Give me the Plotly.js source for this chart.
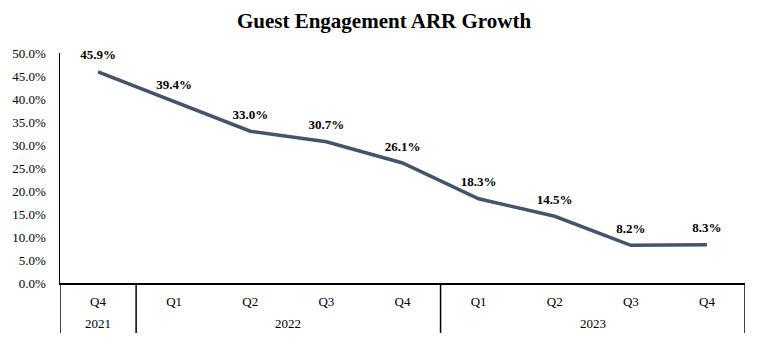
<!DOCTYPE html>
<html>
<head>
<meta charset="utf-8">
<script src="https://cdn.plot.ly/plotly-3.0.1.min.js"></script>
<style>html,body{margin:0;padding:0;background:#fff;}#chart{width:768px;height:355px;}</style>
</head>
<body>
<div id="chart"></div>
<script>
const years = ["2021", "2022", "2022", "2022", "2022", "2023", "2023", "2023", "2023"];
const quarters = ["Q4", "Q1", "Q2", "Q3", "Q4", "Q1", "Q2", "Q3", "Q4"];
const growth = [45.9, 39.4, 33.0, 30.7, 26.1, 18.3, 14.5, 8.2, 8.3];
const yTicks = [0, 5, 10, 15, 20, 25, 30, 35, 40, 45, 50];

const labels = growth.map(v => v.toFixed(1) + "%");
const yTickText = yTicks.map(v => v.toFixed(1) + "%");
const xKeys = years.map((y, i) => y + " " + quarters[i]);

// year groups: first/last index of each year
const groups = [];
years.forEach((y, i) => {
  const g = groups.find(g => g.year === y);
  if (g) g.last = i; else groups.push({year: y, first: i, last: i});
});

const serif = "Liberation Serif, Times New Roman, serif";
const lowRow = -0.178;   // year label row (paper units below axis)
const divEnd = -0.217;   // divider bottom

const annotations = groups.map(g => ({
  xref: "x", yref: "paper",
  x: (g.first + g.last) / 2, y: lowRow,
  text: g.year, showarrow: false,
  xanchor: "center", yanchor: "middle",
  font: {family: serif, size: 13, color: "#000"}
}));

const bounds = [groups[0].first - 0.5].concat(groups.map(g => g.last + 0.5));
const shapes = bounds.map(b => ({
  type: "line", xref: "x", yref: "paper",
  x0: b, x1: b, y0: 0, y1: divEnd,
  line: {color: "#000", width: 1.5}
}));

Plotly.newPlot("chart", [{
  type: "scatter",
  mode: "lines+markers+text",
  x: xKeys,
  y: growth,
  text: labels,
  textposition: "top center",
  textfont: {family: serif, size: 13, color: "#000", weight: "bold"},
  line: {color: "#44546A", width: 3.5},
  marker: {size: 13, color: "rgba(0,0,0,0)"},
  hoverinfo: "skip",
  cliponaxis: false
}], {
  width: 768, height: 355,
  margin: {l: 60, r: 23, t: 53, b: 72},
  paper_bgcolor: "#fff", plot_bgcolor: "#fff",
  showlegend: false,
  title: {text: "<b>Guest Engagement ARR Growth</b>", font: {family: serif, size: 21, color: "#000"}, x: 0.5, xanchor: "center", y: 0.941, yanchor: "middle"},
  xaxis: {
    type: "category",
    range: [-0.5, xKeys.length - 0.5],
    tickvals: xKeys,
    ticktext: quarters,
    automargin: false,
    showline: true, linecolor: "#000", linewidth: 1.5,
    showgrid: false, zeroline: false, ticks: "",
    ticklabelstandoff: 6,
    tickfont: {family: serif, size: 13, color: "#000"}
  },
  yaxis: {
    range: [0, 50],
    tickvals: yTicks,
    ticktext: yTickText,
    automargin: false,
    showline: true, linecolor: "#000", linewidth: 1.5,
    showgrid: false, zeroline: false, ticks: "",
    ticklabelstandoff: 10,
    tickfont: {family: serif, size: 13, color: "#000"}
  },
  annotations: annotations,
  shapes: shapes
}, {staticPlot: true});
</script>
</body>
</html>
